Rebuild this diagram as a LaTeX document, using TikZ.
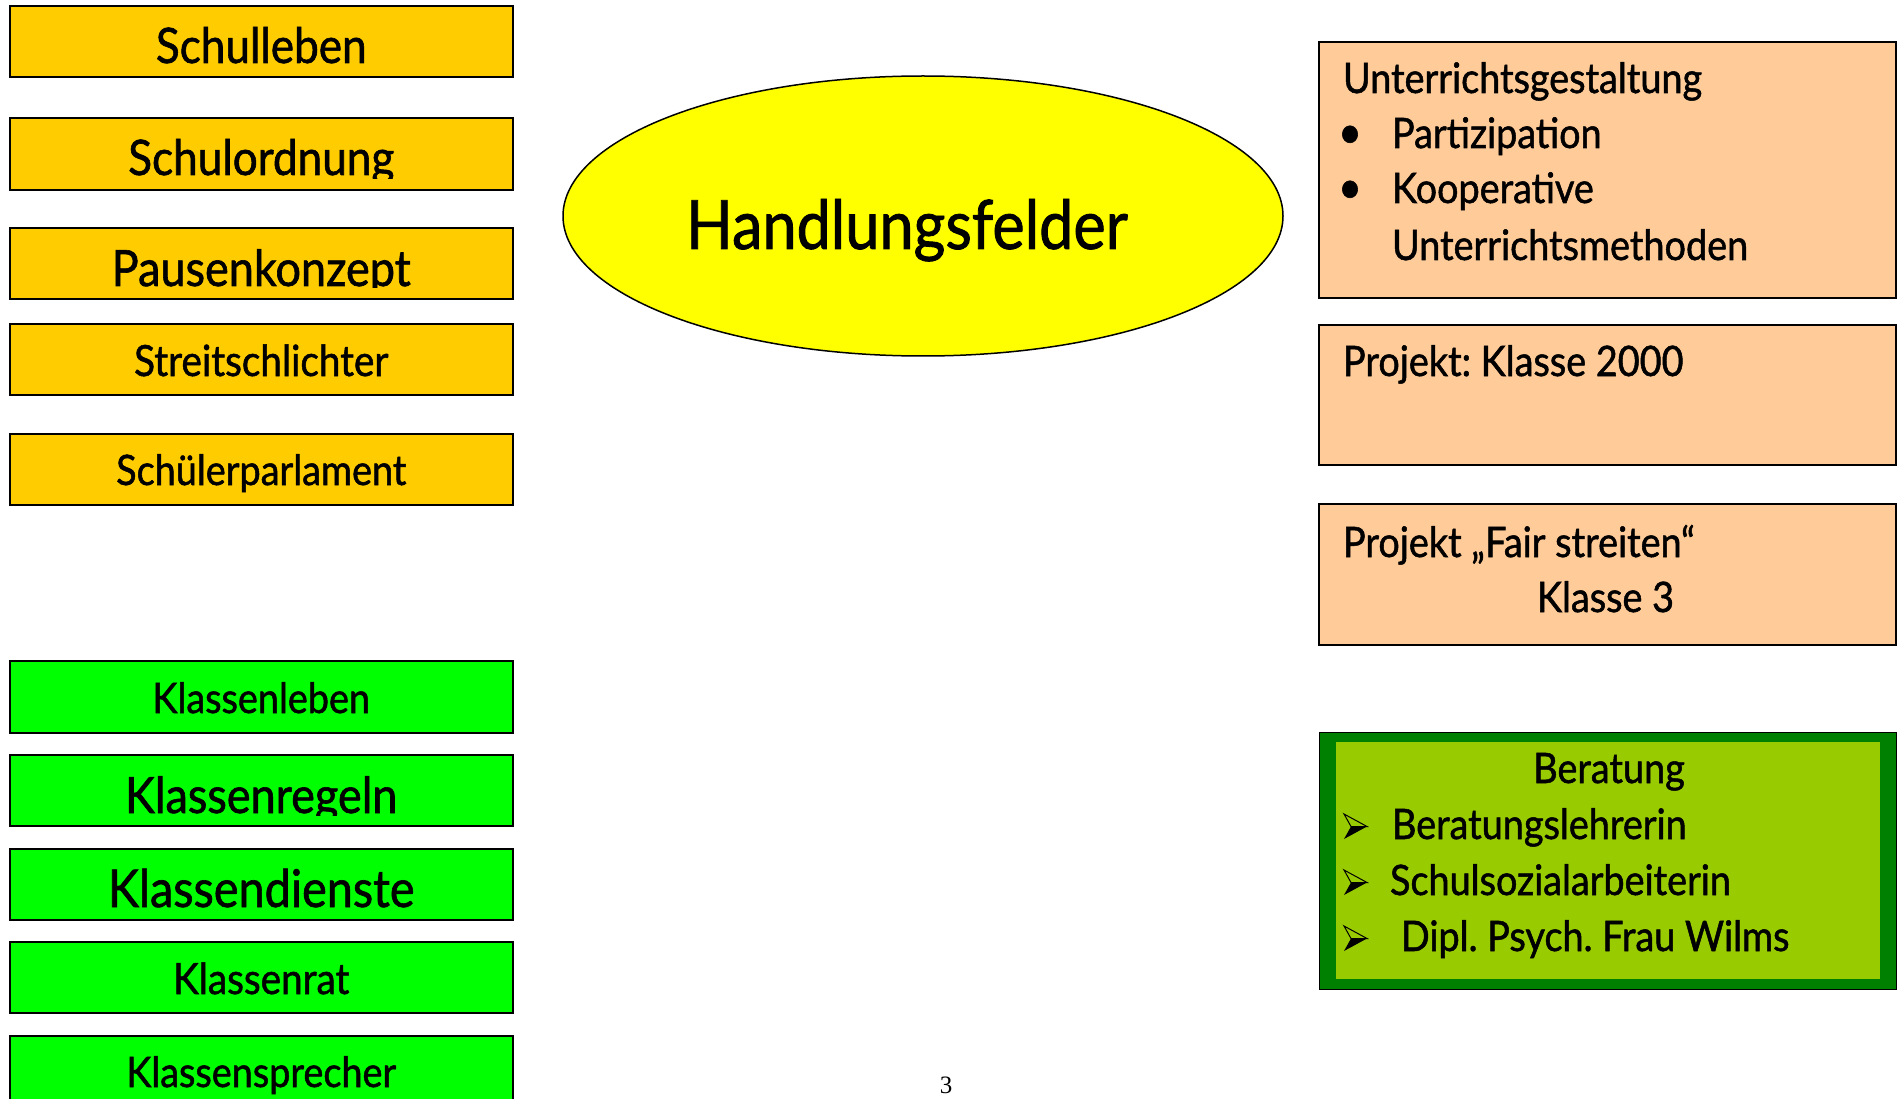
\documentclass[tikz,border=0pt]{standalone}
\usepackage{fontspec}
\newfontfamily\lat[FakeStretch=0.9, FakeBold=1.2]{Lato}
\newfontfamily\numf{Liberation Serif}
\usetikzlibrary{shapes.geometric}
\definecolor{cgold}{HTML}{FFCC00}
\definecolor{cgreen}{HTML}{00FF00}
\definecolor{cyell}{HTML}{FFFF00}
\definecolor{cpeach}{HTML}{FFCC99}
\definecolor{cdkgreen}{HTML}{008000}
\definecolor{cltgreen}{HTML}{99CC00}
\newcommand\fsz[1]{\lat\frenchspacing\fontsize{#1}{#1}\selectfont}
\newcommand\lefttxt[6]{\begin{scope}\clip (9.5,#2) rectangle (513,#3);
  \node[txt, anchor=base, font=\fsz{#5}] (#1) at (261.25,#4) {#6};\end{scope}}
\newcommand\arrowbul[2]{%
  \draw[line width=1pt, line join=miter] (#1,#2-25) -- (#1+23,#2-12.5) -- (#1+7,#2-12.5) -- cycle;
  \fill[black] (#1+7,#2-12.5) -- (#1+23,#2-12.5) -- (#1,#2) -- cycle;}
\begin{document}
\begin{tikzpicture}[x=1pt,y=-1pt,
  txt/.style={inner sep=0pt, outer sep=0pt, text=black},
  lbox/.style={draw=black, line width=2pt, inner sep=0pt, minimum width=503.5pt},
  ybox/.style={lbox, fill=cgold},
  gbox/.style={lbox, fill=cgreen},
  rbox/.style={draw=black, line width=2pt, inner sep=0pt, minimum width=577pt, fill=cpeach},
  rtxt/.style={txt, anchor=base west, font=\fsz{42}},
]
\useasboundingbox[fill=white] (0,0) rectangle (1904,1099);
% left column boxes
\node[ybox, minimum height=71pt] (b1) at (261.25,41.5) {};
\node[ybox, minimum height=72pt] (b2) at (261.25,154) {};
\node[ybox, minimum height=71pt] (b3) at (261.25,263.5) {};
\node[ybox, minimum height=71pt] (b4) at (261.25,359.5) {};
\node[ybox, minimum height=71pt] (b5) at (261.25,469.5) {};
\node[gbox, minimum height=72pt] (b6) at (261.25,697) {};
\node[gbox, minimum height=71pt] (b7) at (261.25,790.5) {};
\node[gbox, minimum height=71pt] (b8) at (261.25,884.5) {};
\node[gbox, minimum height=71pt] (b9) at (261.25,977.5) {};
\node[gbox, minimum height=72pt] (b10) at (261.25,1072) {};
\lefttxt{t1}{6}{66}{63}{49}{Schulleben}
\lefttxt{t2}{118}{179}{175}{49}{Schulordnung}
\lefttxt{t3}{228}{288}{286}{50}{Pausenkonzept}
\lefttxt{t4}{324}{384}{376}{43}{Streitschlichter}
\lefttxt{t5}{434}{494}{485}{42}{Schülerparlament}
\lefttxt{t6}{661}{722}{713}{42}{Klassenleben}
\lefttxt{t7}{755}{815}{813}{50}{Klassenregeln}
\lefttxt{t8}{849}{909}{907}{52}{Klassendienste}
\lefttxt{t9}{942}{1002}{994}{43}{Klassenrat}
\lefttxt{t10}{1036}{1099}{1087}{42}{Klassensprecher}
% ellipse
\node[ellipse, draw=black, line width=1.5pt, fill=cyell, minimum width=720pt, minimum height=280pt, inner sep=0pt] (ell) at (923,216) {};
\node[txt, anchor=base, font=\fsz{68}] (hf) at (907,249) {Handlungsfelder};
% right boxes
\node[rbox, minimum height=256pt] (r1) at (1607.5,170) {};
\node[rbox, minimum height=140pt] (r2) at (1607.5,395) {};
\node[rbox, minimum height=141pt] (r3) at (1607.5,574.5) {};
\node[rtxt] (u1) at (1343,93) {Unterrichtsgestaltung};
\node[txt, anchor=base, font=\fsz{46}] (ub1) at (1350,148) {•};
\node[rtxt] (u2) at (1392,148) {Partizipation};
\node[txt, anchor=base, font=\fsz{46}] (ub2) at (1350,203) {•};
\node[rtxt] (u3) at (1392,203) {Kooperative};
\node[rtxt] (u4) at (1392,260) {Unterrichtsmethoden};
\node[rtxt] (k1) at (1343,376) {Projekt: Klasse 2000};
\node[rtxt] (f1) at (1343,557) {Projekt „Fair streiten“};
\node[rtxt] (f2) at (1537,612) {Klasse 3};
% Beratung
\node[draw=black, line width=1pt, fill=cdkgreen, minimum width=577pt, minimum height=257pt, inner sep=0pt] (bo) at (1607.5,860.5) {};
\node[fill=cltgreen, minimum width=544pt, minimum height=237pt, inner sep=0pt] (bi) at (1608,860.5) {};
\node[txt, anchor=base, font=\fsz{42}] (be0) at (1609,783) {Beratung};
\arrowbul{1344}{839}
\node[rtxt] (be1) at (1392,839) {Beratungslehrerin};
\arrowbul{1344}{895}
\node[rtxt] (be2) at (1390,895) {Schulsozialarbeiterin};
\arrowbul{1344}{951}
\node[rtxt] (be3) at (1401,951) {Dipl. Psych. Frau Wilms};
% page number
\node[txt, anchor=base, font=\numf\fontsize{25}{25}\selectfont] (pg) at (946,1093) {3};
\end{tikzpicture}
\end{document}
